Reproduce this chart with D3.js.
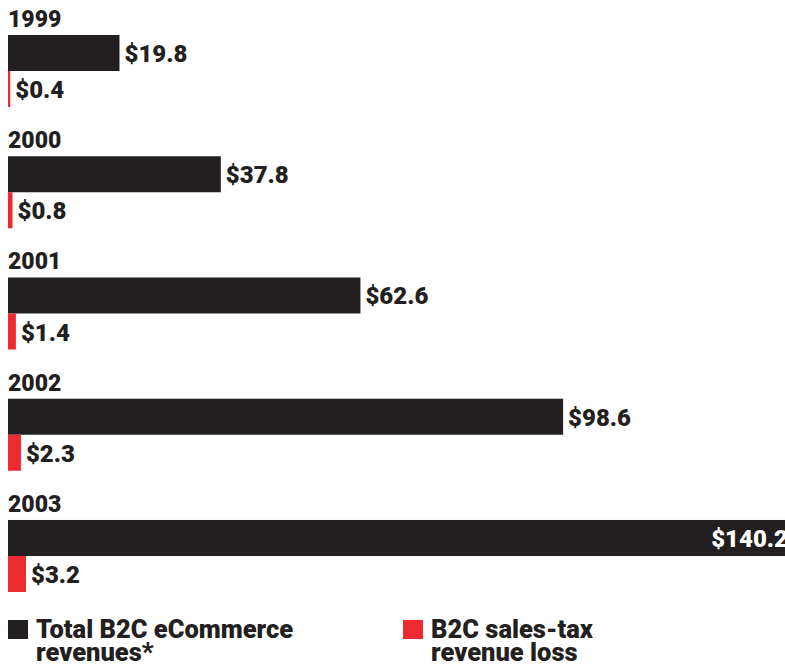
<!DOCTYPE html>
<html>
<head>
<meta charset="utf-8">
<script src="https://cdn.jsdelivr.net/npm/d3@7"></script>
<style>
  html, body { margin: 0; padding: 0; background: #fff; }
  svg { display: block; font-family: Roboto, "Liberation Sans", sans-serif; font-weight: 900; }
</style>
</head>
<body>
<svg id="chart" width="785" height="666"></svg>
<script>
// Billions of dollars, 1999–2003
const years = ["1999", "2000", "2001", "2002", "2003"];
const totalRevenue = [19.8, 37.8, 62.6, 98.6, 140.2];
const taxLoss = [0.4, 0.8, 1.4, 2.3, 3.2];
const seriesKeys = ["total", "loss"];
const seriesNames = ["Total B2C eCommerce\nrevenues*", "B2C sales-tax\nrevenue loss"];
const seriesColors = ["#231f20", "#ed2a30"];

const W = 785;
const svg = d3.select("#chart");

const rows = years.map((y, i) => ({ year: y, total: totalRevenue[i], loss: taxLoss[i] }));

const x = d3.scaleLinear().domain([0, 100]).range([8, 571]);
const yGroup = d3.scaleBand().domain(years).range([35, 592]).paddingInner(0.406).paddingOuter(0);
const ySeries = d3.scaleBand().domain(seriesKeys).range([0, yGroup.bandwidth()]).padding(0);
const color = d3.scaleOrdinal().domain(seriesKeys).range(seriesColors);

const fmt = v => "$" + d3.format(".1f")(v);

const groups = svg.selectAll("g.year")
  .data(rows)
  .join("g")
  .attr("class", "year")
  .attr("transform", d => `translate(0,${yGroup(d.year)})`);

groups.append("text")
  .attr("x", 8)
  .attr("y", -8)
  .attr("font-size", 23)
  .attr("fill", "#231f20")
  .text(d => d.year);

const bars = groups.selectAll("g.bar")
  .data(d => seriesKeys.map(k => ({ key: k, value: d[k] })))
  .join("g")
  .attr("class", "bar")
  .attr("transform", d => `translate(0,${ySeries(d.key)})`);

bars.append("rect")
  .attr("x", x(0))
  .attr("y", 0)
  .attr("width", d => x(d.value) - x(0))
  .attr("height", ySeries.bandwidth())
  .attr("fill", d => color(d.key));

bars.append("text")
  .attr("font-size", 24)
  .attr("y", ySeries.bandwidth() / 2 + 9)
  .text(d => fmt(d.value))
  .each(function (d) {
    const t = d3.select(this);
    const w = this.getComputedTextLength();
    const end = x(d.value);
    if (end + 5 + w > W) {
      // no room past the bar: set the value inside its end, reversed out
      t.attr("x", W + 3).attr("text-anchor", "end").attr("fill", "#fff");
    } else {
      t.attr("x", end + 5).attr("text-anchor", "start").attr("fill", "#231f20");
    }
  });

// Legend
const legendX = d3.scalePoint().domain(seriesKeys).range([8, 403]);
const legend = svg.selectAll("g.legend")
  .data(seriesKeys)
  .join("g")
  .attr("class", "legend")
  .attr("transform", k => `translate(${legendX(k)},620)`);

legend.append("rect")
  .attr("width", 20)
  .attr("height", 19)
  .attr("fill", k => color(k));

legend.append("text")
  .attr("font-size", 25.5)
  .attr("fill", "#231f20")
  .selectAll("tspan")
  .data(k => seriesNames[seriesKeys.indexOf(k)].split("\n"))
  .join("tspan")
  .attr("x", 28)
  .attr("y", (d, i) => 18 + i * 23)
  .text(d => d);
</script>
</body>
</html>
